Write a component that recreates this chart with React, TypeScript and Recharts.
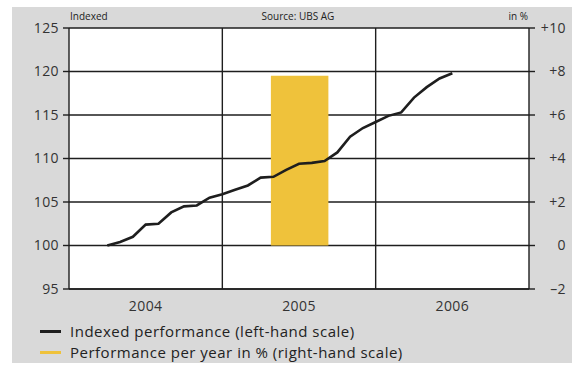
import {
  ComposedChart,
  Line,
  Area,
  XAxis,
  YAxis,
  CartesianGrid,
  ReferenceLine,
} from 'recharts';

// months counted from Jan 2004 (0) to end of 2006 (36)
const months = [3, 4, 5, 6, 7, 8, 9, 10, 11, 12, 13, 14, 15, 16, 17, 18, 19, 20, 21, 22, 23, 24, 25, 26, 27, 28, 29, 30];
const indexValues = [
  100.0, 100.4, 101.0, 102.4, 102.5, 103.8, 104.5, 104.6, 105.5, 105.9, 106.4, 106.9, 107.8, 107.9,
  108.7, 109.4, 109.5, 109.7, 110.7, 112.5, 113.5, 114.2, 114.9, 115.3, 117.0, 118.2, 119.2, 119.8,
];

const yearTicks = [6, 18, 30];
const yearLabels = ['2004', '2005', '2006'];
const yearBoundaries = [12, 24];

const leftTicks = [95, 100, 105, 110, 115, 120, 125];
const rightTicks = [-2, 0, 2, 4, 6, 8, 10];

// performance per year bar (right-hand scale), spans these months
const barSpan = [15.8, 20.3];
const barValue = 7.8;

const lineData = months.map((m, i) => ({ m, v: indexValues[i] }));
const barData = barSpan.map((m) => ({ m, p: barValue }));

const INK = '#1e1e1e';
const YELLOW = '#EFC23B';
const FONT = '"Open Sans", "DejaVu Sans", sans-serif';

const tickStyle = { fill: '#333', fontSize: 14, fontFamily: FONT, letterSpacing: 0.4 };

const fmtRight = (v: number) => (v > 0 ? `+${v}` : v < 0 ? `\u2013${Math.abs(v)}` : '0');

const RightTick = (props: any) => {
  const { x, y, payload } = props;
  return (
    <text x={x + 29} y={y} dy="0.35em" textAnchor="end" {...tickStyle}>
      {fmtRight(payload.value)}
    </text>
  );
};

const LegendRow = ({ color, label, top }: { color: string; label: string; top: number }) => (
  <div style={{ position: 'absolute', left: 28, top: top - 10, height: 20, display: 'flex', alignItems: 'center' }}>
    <span style={{ display: 'inline-block', width: 21, height: 3, background: color, marginRight: 9 }} />
    <span style={{ fontSize: 15, letterSpacing: 0.5, color: '#222', fontFamily: FONT }}>{label}</span>
  </div>
);

const App = () => {
  return (
    <div style={{ position: 'absolute', left: 0, top: 0, width: 572, height: 365, background: '#fff' }}>
      <div style={{ position: 'absolute', left: 12, top: 7, width: 560, height: 356, background: '#d9d9d9' }}>
        <div style={{ position: 'absolute', left: 58, top: 2, fontSize: 10, color: '#222', fontFamily: FONT }}>Indexed</div>
        <div
          style={{ position: 'absolute', left: 186, width: 200, top: 2, textAlign: 'center', fontSize: 10, color: '#222', fontFamily: FONT }}
        >
          Source: UBS AG
        </div>
        <div style={{ position: 'absolute', right: 44, top: 2, fontSize: 10, color: '#222', fontFamily: FONT }}>in %</div>

        <ComposedChart width={560} height={356} margin={{ top: 21, right: 0, left: 0, bottom: 44 }}>
          <CartesianGrid yAxisId="left" vertical={false} stroke={INK} strokeWidth={1.4} fill="#fff" fillOpacity={1} />
          <XAxis
            dataKey="m"
            type="number"
            domain={[0, 36]}
            ticks={yearTicks}
            tickFormatter={(v: number) => yearLabels[yearTicks.indexOf(v)]}
            tickLine={false}
            tickMargin={6}
            height={30}
            axisLine={{ stroke: INK, strokeWidth: 1.4 }}
            tick={tickStyle}
          />
          <YAxis
            yAxisId="left"
            domain={[95, 125]}
            ticks={leftTicks}
            width={57}
            tickSize={6}
            tickMargin={4}
            axisLine={{ stroke: INK, strokeWidth: 1.4 }}
            tickLine={{ stroke: INK, strokeWidth: 1.4 }}
            tick={tickStyle}
          />
          <YAxis
            yAxisId="right"
            orientation="right"
            domain={[-2, 10]}
            ticks={rightTicks}
            width={43}
            tickSize={6}
            axisLine={{ stroke: INK, strokeWidth: 1.4 }}
            tickLine={{ stroke: INK, strokeWidth: 1.4 }}
            tick={<RightTick />}
          />
          {yearBoundaries.map((x) => (
            <ReferenceLine key={x} x={x} yAxisId="left" stroke={INK} strokeWidth={1.4} />
          ))}
          <Area
            yAxisId="right"
            data={barData}
            dataKey="p"
            type="linear"
            baseValue={0}
            fill={YELLOW}
            fillOpacity={1}
            stroke="none"
            dot={false}
            activeDot={false}
            isAnimationActive={false}
          />
          <Line
            yAxisId="left"
            data={lineData}
            dataKey="v"
            type="linear"
            stroke={INK}
            strokeWidth={2.6}
            dot={false}
            activeDot={false}
            isAnimationActive={false}
          />
        </ComposedChart>

        <LegendRow color={INK} label="Indexed performance (left-hand scale)" top={324} />
        <LegendRow color={YELLOW} label="Performance per year in % (right-hand scale)" top={345} />
      </div>
    </div>
  );
};

export default App;
